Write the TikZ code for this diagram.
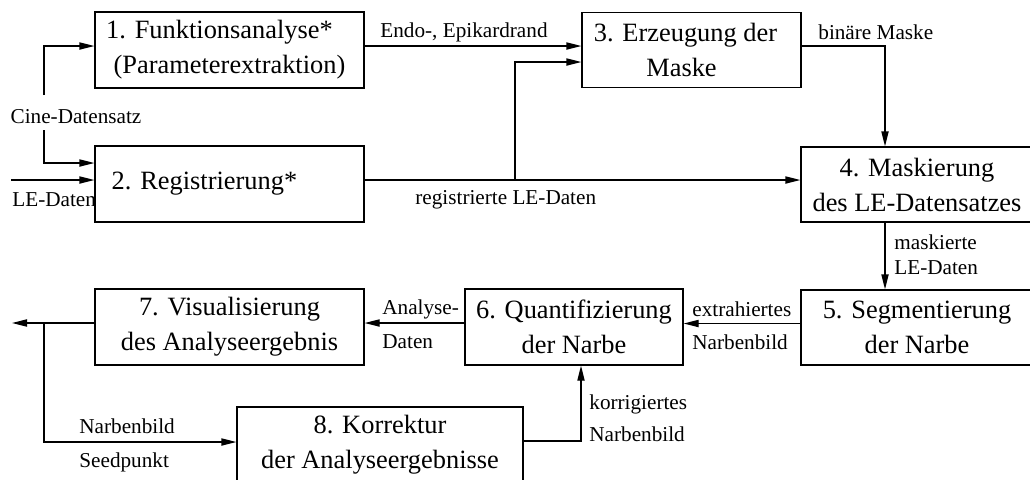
\documentclass[tikz,border=0pt]{standalone}
\usepackage{fontspec}
\setmainfont{Liberation Serif}
\usetikzlibrary{arrows.meta,calc}
\begin{document}
\begin{tikzpicture}[x=0.5pt,y=-0.5pt,
  stage/.style={draw, line width=0.65pt, align=center, inner sep=0pt,
    font=\fontsize{13.2}{17.5}\selectfont},
  lbl/.style={inner sep=0pt, font=\fontsize{10.6}{13}\selectfont},
  lblw/.style={lbl, anchor=west},
  plain/.style={line width=0.65pt},
  flow/.style={plain, -{Triangle[length=7.5pt,width=3.6pt]}}]
\useasboundingbox (0,0) rectangle (1030,479);
\clip (0,0) rectangle (1030,479);

% processing stages
\node[stage, minimum width=134.5pt, minimum height=38pt] (b1) at (229.5,50)
  {1. Funktionsanalyse*\hspace{10pt}\mbox{}\\(Parameterextraktion)};
\node[stage, minimum width=134.5pt, minimum height=38pt] (b2) at (229.5,184)
  {\raisebox{2pt}{2. Registrierung*}\hspace{25pt}\mbox{}};
\node[stage, minimum width=109.5pt, minimum height=37.5pt] (b3) at (691.5,50)
  {3. Erzeugung der\hspace{6pt}\mbox{}\\Maske\hspace{10pt}\mbox{}};
\node[stage, minimum width=116pt, minimum height=37.5pt] (b4) at (917,184.5)
  {4. Maskierung\\des LE-Datensatzes};
\node[stage, minimum width=116pt, minimum height=37.5pt] (b5) at (917,327.5)
  {5. Segmentierung\\der Narbe};
\node[stage, minimum width=109pt, minimum height=38pt] (b6) at (574,327)
  {6. Quantifizierung\\der Narbe};
\node[stage, minimum width=134.5pt, minimum height=38pt] (b7) at (229.5,327)
  {7. Visualisierung\\des Analyseergebnis};
\node[stage, minimum width=143pt, minimum height=38pt] (b8) at (380,445)
  {8. Korrektur\\der Analyseergebnisse};

% inputs on the left
\node[lbl] (cine) at (76,117) {Cine-Datensatz};
\coordinate (cineTop) at (44,95);
\coordinate (cineBot) at (44,130);
\draw[flow] (cineTop) |- ($(b1.west)+(0,-4)$);
\draw[flow] (cineBot) |- ($(b2.west)+(0,-21)$);
\coordinate (leIn) at (11,180);
\draw[flow] (leIn) -- (leIn -| b2.west);
\node[lblw] (leLbl) at (12,200) {LE-Daten};

% upper row
\draw[flow] ($(b1.east)+(0,-4)$) coordinate (e1) -- (e1 -| b3.west);
\node[lblw] (endo) at (380,32) {Endo-, Epikardrand};
\draw[flow] ($(b2.east)+(0,-4)$) coordinate (e2) -- (e2 -| b4.west);
\node[lblw] (regLbl) at (415,200) {registrierte LE-Daten};
\coordinate (reg) at (515,180);
\draw[flow] (reg) |- ($(b3.west)+(0,12)$);
\coordinate (bm) at (885,0);
\draw[flow] ($(b3.east)+(0,-4)$) -| (bm |- b4.north);
\node[lblw] (binLbl) at (818,32) {binäre Maske};

% right side down to segmentation
\draw[flow] (bm |- b4.south) -- (bm |- b5.north);
\node[lblw, align=left, font=\fontsize{10.6}{12.5}\selectfont] (maskLbl) at (894,254.5)
  {maskierte\\LE-Daten};

% lower row, right to left
\draw[flow] ($(b5.west)+(0,-4)$) coordinate (e5) -- (e5 -| b6.east);
\node[lblw] (extr) at (692,309) {extrahiertes};
\node[lblw] (narb1) at (692,342) {Narbenbild};
\draw[flow] ($(b6.west)+(0,-4)$) coordinate (e6) -- (e6 -| b7.east);
\node[lblw] (anaA) at (382,309) {Analyse-};
\node[lblw] (anaB) at (382,342) {Daten};
\coordinate (outEnd) at (12,323);
\draw[flow] ($(b7.west)+(0,-4)$) -- (outEnd);

% correction loop
\coordinate (fb) at (44,323);
\draw[flow] (fb) |- ($(b8.west)+(0,-3)$);
\node[lblw] (narb2) at (79,426) {Narbenbild};
\node[lblw] (seed) at (79,462) {Seedpunkt};
\coordinate (kor) at (581,0);
\draw[flow] ($(b8.east)+(0,-4)$) -| (kor |- b6.south);
\node[lblw, align=left, font=\fontsize{10.6}{16}\selectfont] (korLbl) at (589,418)
  {korrigiertes\\Narbenbild};
\end{tikzpicture}
\end{document}
